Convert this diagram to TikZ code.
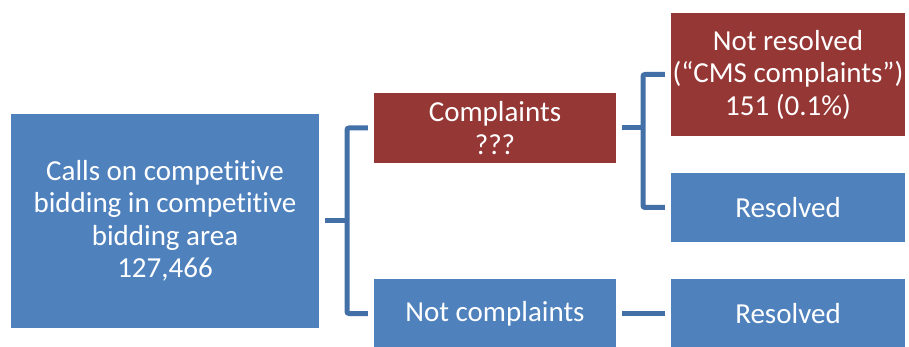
\documentclass[tikz,border=0pt]{standalone}
\usepackage{fontspec}
\setmainfont[Ligatures={NoCommon}]{Carlito}
\definecolor{boxblue}{HTML}{4F81BD}
\definecolor{boxred}{HTML}{953735}
\definecolor{connblue}{HTML}{4470A8}
\begin{document}
\begin{tikzpicture}[x=1pt,y=-1pt,
  box/.style={draw=none, inner sep=0pt, align=center, text=white,
    font=\fontsize{29}{32.5}\selectfont},
  bluebox/.style={box, fill=boxblue},
  redbox/.style={box, fill=boxred},
  conn/.style={draw=connblue, line width=5pt, rounded corners=2pt}]
\useasboundingbox (0,0) rectangle (909,347);
\node[bluebox, minimum width=308pt, minimum height=214pt] (L) at (165,221)
  {Calls on competitive\\bidding in competitive\\bidding area\\127,466};
\node[redbox, minimum width=242pt, minimum height=70pt] (C) at (495,128)
  {Complaints\\???};
\node[bluebox, minimum width=242pt, minimum height=69pt] (NC) at (495,313.5)
  {Not complaints};
\node[redbox, minimum width=234pt, minimum height=123pt] (NR) at (788,74.5)
  {Not resolved\\(“CMS complaints”)\\151 (0.1\%)};
\node[bluebox, minimum width=234pt, minimum height=69pt] (R1) at (788,207.5)
  {Resolved};
\node[bluebox, minimum width=234pt, minimum height=69pt] (R2) at (788,313.5)
  {Resolved};
\coordinate (j1) at (347,221);
\coordinate (j2) at (643,128);
\draw[conn] ([xshift=6pt]L.east) -- (j1);
\draw[conn] ([xshift=-6pt]C.west) -| (j1) |- ([xshift=-6pt]NC.west);
\draw[conn] ([xshift=6pt]C.east) -- (j2);
\draw[conn] ([xshift=-6pt]NR.west) -| (j2) |- ([xshift=-6pt]R1.west);
\draw[conn] ([xshift=6pt]NC.east) -- ([xshift=-6pt]R2.west);
\end{tikzpicture}
\end{document}
